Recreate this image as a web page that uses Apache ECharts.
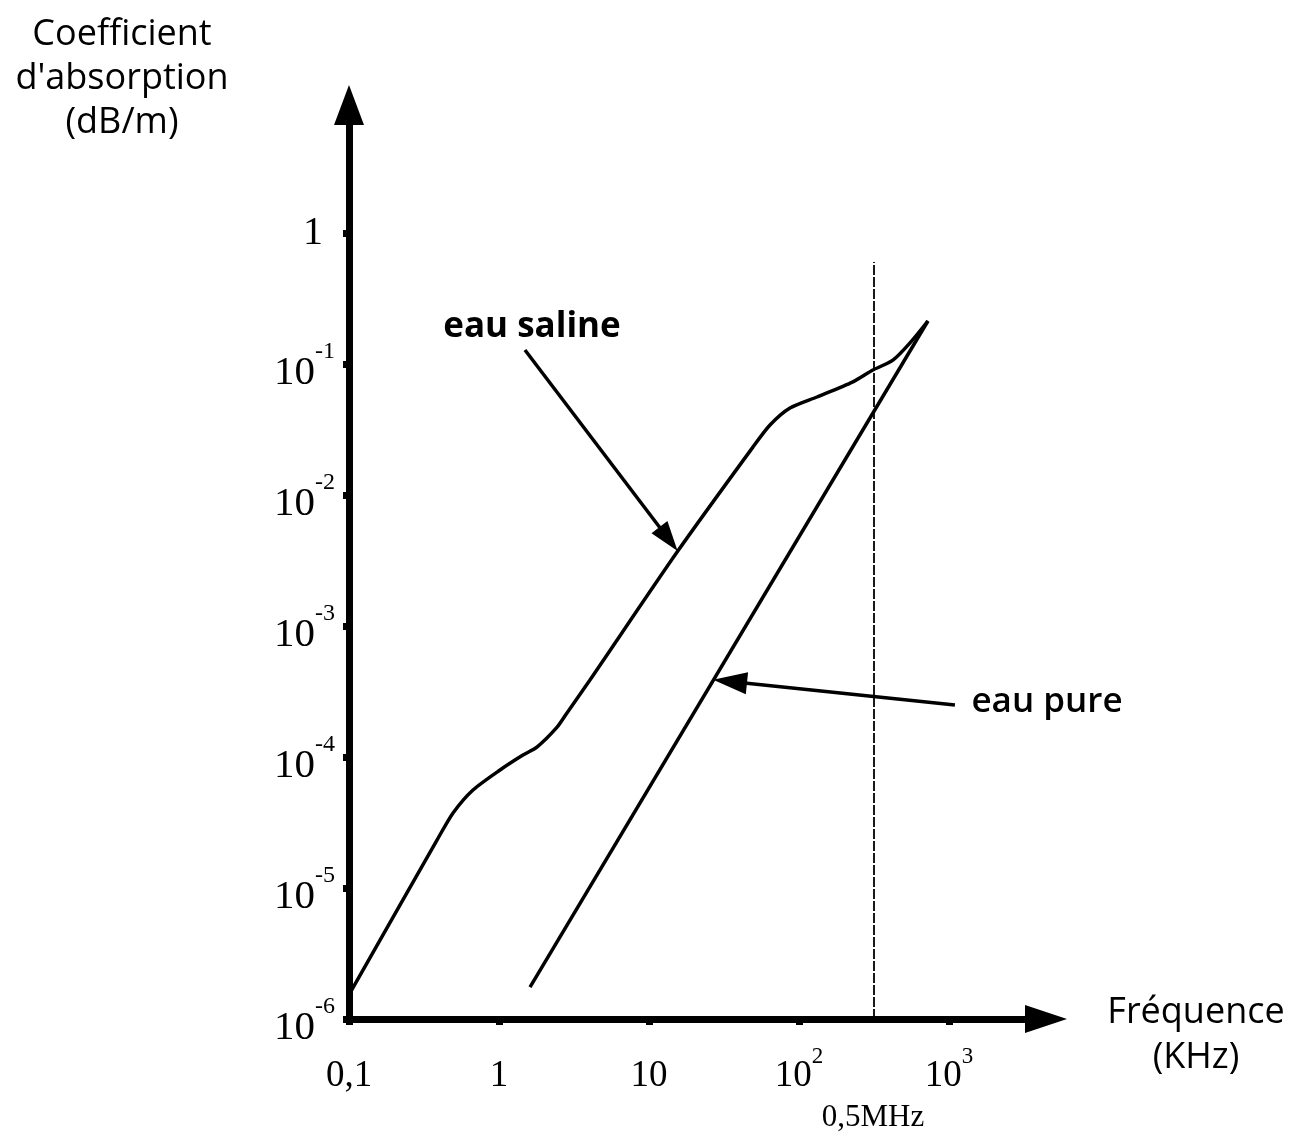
<!DOCTYPE html>
<html>
<head>
<meta charset="utf-8">
<script src="https://cdn.jsdelivr.net/npm/echarts@6/dist/echarts.min.js"></script>
<style>
html,body{margin:0;padding:0;background:#fff;}
#chart{width:1294px;height:1135px;}
</style>
</head>
<body>
<div id="chart"></div>
<script>
// ---- data ----
const xTickValues = [0.1, 1, 10, 100, 1000];
const xTickLabels = ['0,1', '1', '10', '10^2', '10^3'];
const yTickValues = [1e-6, 1e-5, 1e-4, 1e-3, 1e-2, 1e-1, 1];
const yTickLabels = ['10^-6', '10^-5', '10^-4', '10^-3', '10^-2', '10^-1', '1'];

// eau saline  (frequency kHz, absorption dB/m)
const salineFreq = [0.1016, 0.386, 0.494, 0.671, 1.016, 1.445, 1.79, 2.44, 2.84, 4.04, 15.4, 49.3, 64.1, 87.1, 132, 229, 311, 423, 550, 724];
const salineAbs  = [1.58e-6, 2.32e-5, 3.74e-5, 5.6e-5, 7.96e-5, 1.035e-4, 1.19e-4, 1.69e-4, 2.17e-4, 3.87e-4, 3.67e-3, 0.0232, 0.0342, 0.0461, 0.056, 0.073, 0.09, 0.107, 0.145, 0.213];

// eau pure
const pureFreq = [1.61, 724];
const pureAbs  = [1.75e-6, 0.213];

// vertical reference line (0,5 MHz marker)
const markerFreq = 316;
const markerTop = 0.6;

// annotation arrows [start, end]
const salineArrow = [[1.49, 0.128], [13.5, 4.61e-3]];
const pureArrow = [[1096, 2.49e-4], [34.7, 3.77e-4]];

// axis extents
const xMin = 0.1, xMax = 4436;
const yMin = 1e-6, yMax = 9.49;

const serif = '"Liberation Serif", "Times New Roman", serif';
const sans = '"Open Sans", "DejaVu Sans", sans-serif';

const chart = echarts.init(document.getElementById('chart'));

function zip(a, b) { return a.map((v, i) => [v, b[i]]); }

const xRich = {
  b: { fontFamily: serif, fontSize: 37, color: '#000', verticalAlign: 'top', padding: [18, 0, 0, 0] },
  s: { fontFamily: serif, fontSize: 23, color: '#000', verticalAlign: 'top', padding: [5, 0, 0, 0] }
};
const yRich = {
  b: { fontFamily: serif, fontSize: 41, color: '#000', verticalAlign: 'top', padding: [18, 0, 0, 0] },
  s: { fontFamily: serif, fontSize: 24, color: '#000', verticalAlign: 'top', padding: [5, 0, 0, 0] },
  one: { fontFamily: serif, fontSize: 40, color: '#000', padding: [0, 12, 0, 0] }
};

function fmt(values, labels, plainStyle) {
  return function (v) {
    for (let i = 0; i < values.length; i++) {
      if (Math.abs(Math.log10(v) - Math.log10(values[i])) < 1e-6) {
        const parts = labels[i].split('^');
        if (parts.length === 2) return '{b|' + parts[0] + '}{s|' + parts[1] + '}';
        return '{' + plainStyle + '|' + parts[0] + '}';
      }
    }
    return '';
  };
}

const option = {
  backgroundColor: '#fff',
  animation: false,
  grid: { left: 349, right: 248, top: 105, bottom: 116, containLabel: false, outerBoundsMode: 'none' },
  xAxis: {
    type: 'log', logBase: 10, min: xMin, max: xMax,
    axisLine: { show: true, lineStyle: { color: '#000', width: 7 }, symbol: ['none', 'triangle'], symbolSize: [28, 42] },
    axisTick: { show: true, customValues: xTickValues, length: 6, inside: false, lineStyle: { color: '#000', width: 7 } },
    axisLabel: { show: true, customValues: xTickValues, formatter: fmt(xTickValues, xTickLabels, 'b'), margin: 21, rich: xRich, color: '#000' },
    splitLine: { show: false },
    minorTick: { show: false }
  },
  yAxis: {
    type: 'log', logBase: 10, min: yMin, max: yMax,
    axisLine: { show: true, lineStyle: { color: '#000', width: 7 }, symbol: ['none', 'triangle'], symbolSize: [30, 40] },
    axisTick: { show: true, customValues: yTickValues, length: 6, inside: false, lineStyle: { color: '#000', width: 7 } },
    axisLabel: { show: true, customValues: yTickValues, formatter: fmt(yTickValues, yTickLabels, 'one'), margin: 14, rich: yRich, color: '#000', align: 'right' },
    splitLine: { show: false },
    minorTick: { show: false }
  },
  series: [
    {
      name: 'eau saline', type: 'line', data: zip(salineFreq, salineAbs),
      showSymbol: false, smooth: 0.25,
      lineStyle: { color: '#000', width: 3.5 },
      markLine: {
        silent: true, symbol: ['none', 'triangle'], symbolSize: [20, 30],
        lineStyle: { color: '#000', width: 3.5, type: 'solid' },
        label: { show: false },
        data: [
          [{ coord: salineArrow[0] }, { coord: salineArrow[1] }],
          [{ coord: [markerFreq, yMin], symbol: 'none', lineStyle: { width: 1.8, type: [10, 2] } }, { coord: [markerFreq, markerTop], symbol: 'none' }]
        ]
      }
    },
    {
      name: 'eau pure', type: 'line', data: zip(pureFreq, pureAbs),
      showSymbol: false,
      lineStyle: { color: '#000', width: 3.5 },
      markLine: {
        silent: true, symbol: ['none', 'triangle'], symbolSize: [22, 34],
        lineStyle: { color: '#000', width: 3.5, type: 'solid' },
        label: { show: false },
        data: [
          [{ coord: pureArrow[0] }, { coord: pureArrow[1] }]
        ]
      }
    }
  ],
  graphic: [
    { type: 'text', x: 122, y: 35, style: { text: 'Coefficient', font: '36px ' + sans, fill: '#000', textAlign: 'center', textVerticalAlign: 'middle' } },
    { type: 'text', x: 122, y: 79, style: { text: "d'absorption", font: '36px ' + sans, fill: '#000', textAlign: 'center', textVerticalAlign: 'middle' } },
    { type: 'text', x: 122, y: 123, style: { text: '(dB/m)', font: '36px ' + sans, fill: '#000', textAlign: 'center', textVerticalAlign: 'middle' } },
    { type: 'text', x: 1196, y: 1013, style: { text: 'Fréquence', font: '36px ' + sans, fill: '#000', textAlign: 'center', textVerticalAlign: 'middle' } },
    { type: 'text', x: 1196, y: 1058, style: { text: '(KHz)', font: '36px ' + sans, fill: '#000', textAlign: 'center', textVerticalAlign: 'middle' } },
    { type: 'text', x: 532, y: 327, style: { text: 'eau saline', font: 'bold 35px ' + sans, fill: '#000', textAlign: 'center', textVerticalAlign: 'middle' } },
    { type: 'text', x: 1047, y: 702, style: { text: 'eau pure', font: '600 35px ' + sans, fill: '#000', textAlign: 'center', textVerticalAlign: 'middle' } },
    { type: 'text', x: 873, y: 1118, style: { text: '0,5MHz', font: '31px ' + serif, fill: '#000', textAlign: 'center', textVerticalAlign: 'middle' } }
  ]
};

chart.setOption(option);
</script>
</body>
</html>
